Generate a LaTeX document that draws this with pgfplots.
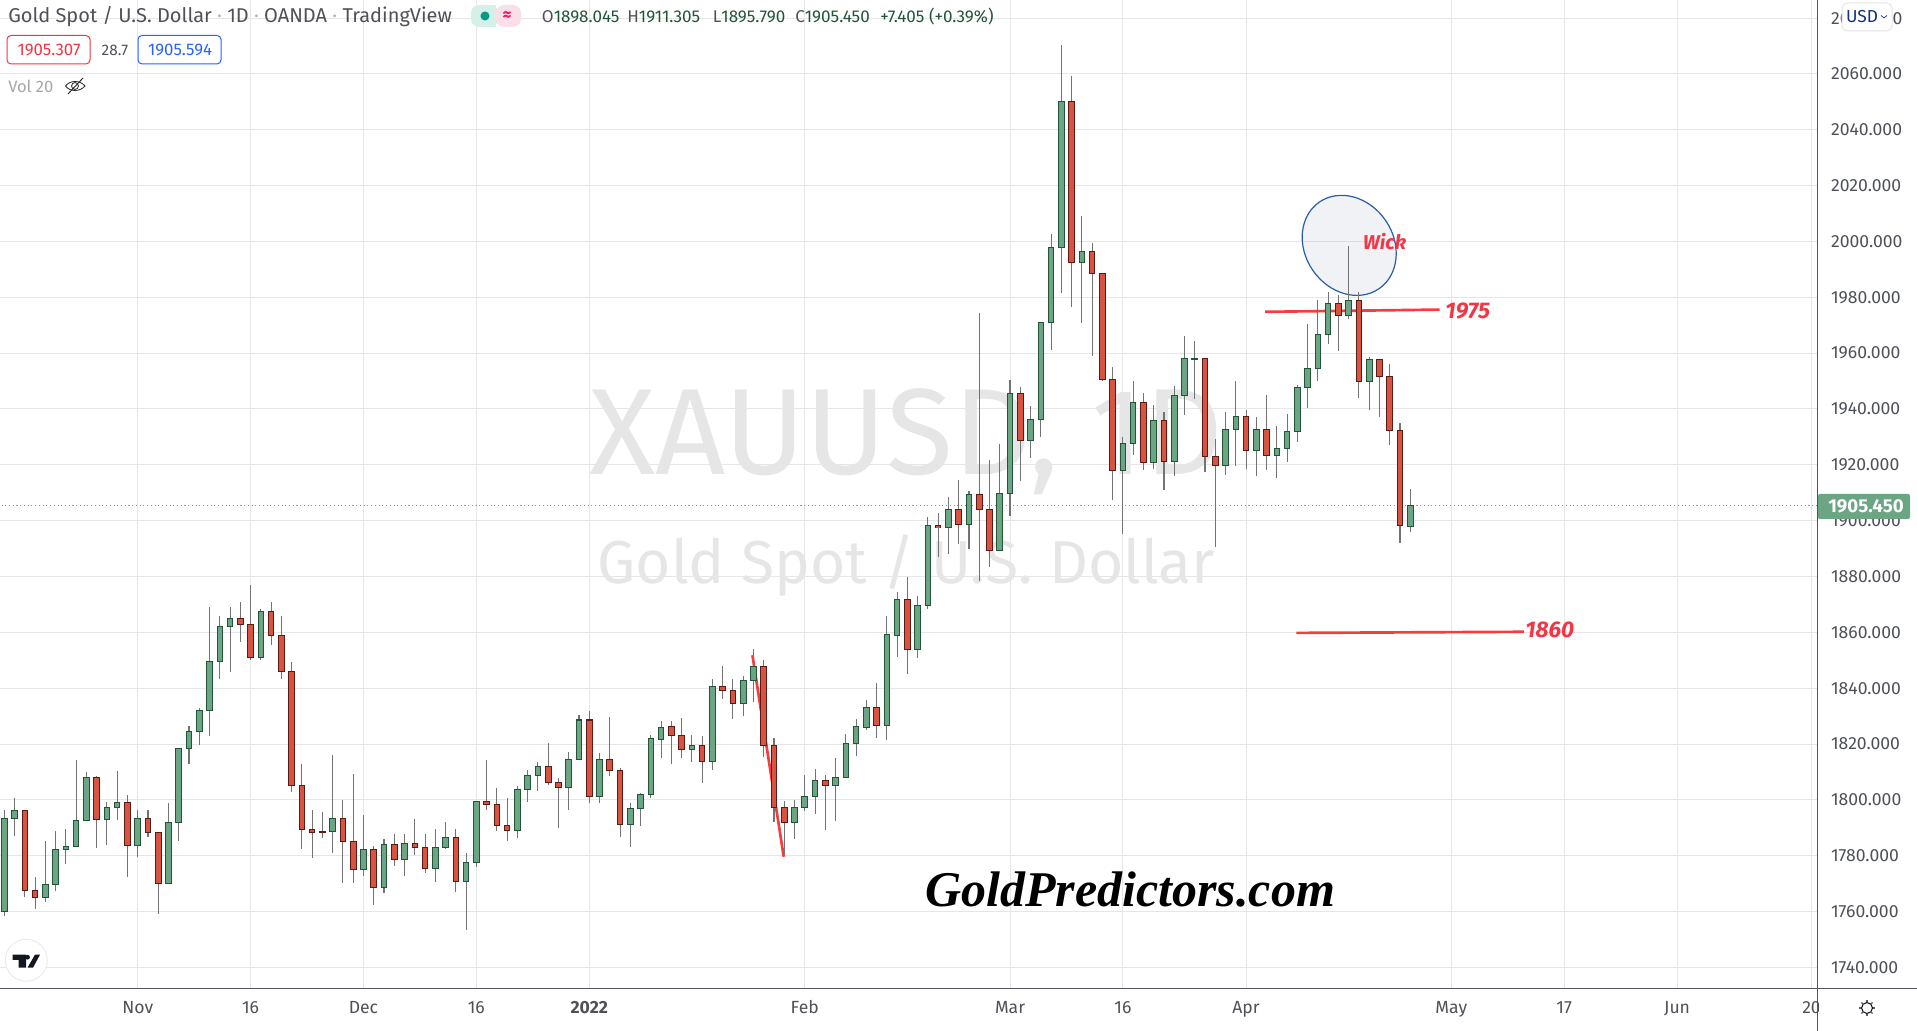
\documentclass[border=0pt]{standalone}
\usepackage{fontspec}
\usepackage{pgfplots}
\usepackage{pgfplotstable}
\pgfplotsset{compat=1.18}
\setmainfont{Fira Sans}
\newfontfamily\serifb{Liberation Serif}

\definecolor{upfill}{HTML}{6BA583}
\definecolor{upline}{HTML}{225437}
\definecolor{dnfill}{HTML}{D75442}
\definecolor{dnline}{HTML}{5B1A13}
\definecolor{wick}{HTML}{737375}
\definecolor{gridc}{HTML}{E6E6E6}
\definecolor{txt}{HTML}{4F5159}
\definecolor{axisc}{HTML}{50535E}
\definecolor{redt}{HTML}{F23645}
\definecolor{bluet}{HTML}{2962FF}
\definecolor{wmark}{HTML}{E6E6E6}
\definecolor{pillg}{HTML}{D5EFE9}
\definecolor{pillr}{HTML}{FADFE8}
\definecolor{dotg}{HTML}{089981}
\definecolor{pinkt}{HTML}{E91E63}
\definecolor{ink}{HTML}{131722}
\definecolor{ringline}{HTML}{2A5CAD}
\definecolor{ringfill}{HTML}{B8BCD0}

% index open high low close, rising days
\pgfplotstableread{
i o h l c
0 1760.1 1796.5 1758.3 1793.2
1 1793.2 1800.8 1787.0 1796.1
4 1764.9 1785.4 1763.3 1769.6
5 1769.6 1788.7 1767.3 1782.1
6 1782.1 1789.7 1777.0 1783.2
7 1783.2 1814.1 1783.2 1792.5
8 1792.5 1810.1 1792.5 1807.9
10 1792.8 1799.3 1783.8 1797.1
11 1797.1 1810.5 1792.7 1798.9
13 1783.5 1796.2 1779.5 1793.2
16 1769.9 1799.0 1769.9 1791.8
17 1791.8 1818.3 1785.2 1818.3
18 1818.3 1826.6 1812.8 1824.4
19 1824.4 1833.0 1819.6 1831.9
20 1831.9 1868.9 1822.8 1849.4
21 1849.4 1866.0 1843.2 1862.0
22 1862.0 1868.9 1845.7 1864.8
25 1850.9 1868.2 1850.0 1867.4
32 1788.5 1815.9 1780.9 1793.2
35 1774.9 1794.7 1772.7 1782.1
37 1768.5 1786.0 1766.6 1783.9
39 1778.5 1787.9 1772.7 1784.2
42 1775.3 1789.7 1770.5 1782.8
43 1782.8 1791.9 1782.3 1786.7
45 1770.6 1781.0 1753.3 1777.4
46 1777.4 1799.6 1776.0 1799.3
50 1788.9 1805.1 1786.3 1803.6
51 1803.6 1810.8 1799.2 1808.6
52 1808.6 1813.6 1803.3 1812.1
55 1804.3 1817.3 1796.5 1814.6
56 1814.6 1830.5 1814.6 1828.6
58 1801.1 1816.8 1798.8 1814.6
61 1791.1 1799.0 1783.1 1796.8
62 1796.8 1802.6 1790.6 1801.8
63 1801.8 1823.2 1800.5 1821.8
64 1821.8 1828.2 1814.9 1826.1
67 1817.9 1823.2 1813.4 1819.3
69 1813.9 1843.2 1810.6 1840.7
72 1834.6 1844.4 1829.9 1842.9
73 1842.9 1853.9 1835.2 1847.8
77 1791.8 1800.0 1786.0 1797.1
78 1797.1 1809.0 1796.0 1801.1
79 1801.1 1811.1 1794.9 1806.8
81 1805.0 1815.0 1792.4 1807.9
82 1807.9 1823.6 1807.9 1820.3
83 1820.3 1828.9 1815.6 1826.1
84 1826.1 1835.7 1824.9 1833.2
86 1826.8 1865.7 1821.3 1859.3
87 1859.0 1874.3 1851.2 1871.7
89 1853.7 1872.9 1850.8 1869.6
90 1869.6 1901.2 1868.2 1898.2
92 1897.5 1908.3 1888.0 1903.9
94 1898.5 1910.8 1889.9 1909.3
97 1889.3 1927.6 1889.3 1909.6
98 1909.6 1950.5 1901.7 1945.7
100 1928.6 1941.2 1922.4 1936.4
101 1936.4 1970.9 1929.9 1970.9
102 1970.9 2002.8 1961.3 1997.7
103 1997.7 2070.5 1981.5 2050.0
105 1992.3 2009.3 1970.7 1996.3
109 1917.9 1929.8 1895.1 1927.6
110 1927.6 1949.9 1923.5 1942.2
112 1920.8 1941.6 1918.5 1935.8
114 1921.1 1948.4 1916.0 1944.7
115 1944.7 1966.3 1937.8 1958.0
116 1957.9 1964.5 1943.5 1958.0
119 1919.7 1938.8 1916.3 1932.6
120 1932.6 1949.9 1919.6 1937.2
122 1925.0 1937.0 1916.0 1932.7
124 1923.3 1933.8 1915.3 1925.8
125 1925.8 1938.2 1921.0 1931.9
126 1931.9 1948.6 1928.2 1947.7
127 1947.7 1970.4 1940.4 1954.5
128 1954.5 1979.1 1950.1 1966.7
129 1966.7 1981.8 1963.4 1977.9
131 1973.6 1998.4 1972.4 1978.9
133 1949.9 1958.5 1939.7 1957.8
137 1898.045 1911.305 1895.79 1905.45
}\upbars

% falling days
\pgfplotstableread{
i o h l c
2 1796.1 1796.5 1765.1 1767.4
3 1767.4 1772.2 1760.8 1764.9
9 1807.9 1808.7 1782.7 1792.8
12 1798.9 1801.6 1772.3 1783.5
14 1793.2 1796.5 1786.6 1788.2
15 1788.2 1788.2 1759.0 1769.9
23 1864.8 1870.7 1856.5 1862.7
24 1862.7 1877.1 1850.0 1850.9
26 1867.4 1871.0 1855.4 1858.7
27 1858.7 1866.0 1843.2 1845.9
28 1845.9 1849.2 1802.7 1805.0
29 1805.0 1812.7 1782.3 1789.3
30 1789.3 1796.5 1779.1 1788.4
31 1788.5 1795.5 1786.3 1788.4
33 1793.2 1799.8 1770.1 1785.0
34 1785.0 1809.1 1770.1 1774.9
36 1782.1 1783.6 1762.3 1768.5
38 1783.9 1787.9 1776.2 1778.5
40 1784.2 1793.3 1780.2 1782.8
41 1782.8 1787.9 1773.7 1775.3
44 1786.7 1789.7 1766.9 1770.6
47 1799.3 1814.4 1796.3 1798.2
48 1798.2 1804.4 1788.8 1790.7
49 1790.7 1800.8 1785.2 1788.9
53 1812.1 1820.5 1805.2 1806.1
54 1806.1 1808.0 1789.9 1804.3
57 1828.6 1831.9 1798.8 1801.1
59 1814.6 1829.8 1808.4 1810.4
60 1810.4 1811.4 1786.7 1791.1
65 1826.1 1828.2 1812.7 1822.9
66 1822.9 1829.3 1814.9 1817.9
68 1819.3 1822.9 1805.9 1813.9
70 1840.7 1848.0 1836.3 1839.3
71 1839.3 1843.2 1828.8 1834.6
74 1847.8 1850.0 1815.2 1819.3
75 1819.3 1822.3 1792.0 1797.1
76 1797.1 1799.6 1780.5 1791.8
80 1806.8 1809.0 1789.2 1805.0
85 1833.2 1841.8 1822.0 1826.8
88 1871.7 1879.7 1845.1 1853.7
91 1898.2 1902.6 1887.0 1897.4
93 1903.9 1914.4 1891.7 1898.5
95 1909.3 1974.3 1878.5 1903.9
96 1903.9 1921.9 1883.5 1889.3
99 1945.7 1947.9 1914.2 1928.6
104 2050.0 2059.4 1976.5 1992.3
106 1996.3 1999.3 1958.9 1988.4
107 1988.4 1988.4 1949.9 1950.5
108 1950.5 1954.9 1907.4 1917.9
111 1942.2 1945.6 1918.1 1920.8
113 1935.8 1938.8 1911.0 1921.1
117 1958.0 1958.3 1917.4 1922.9
118 1922.9 1929.3 1890.6 1919.7
121 1937.2 1939.8 1918.5 1925.0
123 1932.7 1945.0 1918.2 1923.3
130 1977.9 1980.9 1960.9 1973.6
132 1978.9 1982.0 1944.0 1949.9
134 1957.8 1957.8 1937.2 1951.7
135 1951.7 1956.1 1927.1 1932.3
136 1932.3 1934.9 1892.0 1898.2
}\dnbars

\pgfplotsset{
  wicks/.style={draw=none, no markers,
    error bars/.cd, y dir=both, y explicit, error mark=none,
    error bar style={line width=.8pt, draw=wick}},
  bodyline/.style={draw=none, no markers,
    error bars/.cd, y dir=both, y explicit, error mark=none,
    error bar style={line width=4.95pt, draw=#1}},
  bodyfill/.style={draw=none, no markers,
    error bars/.cd, y dir=both, y explicit, error mark=none,
    error bar style={line width=3.45pt, draw=#1}},
}

\begin{document}
\begin{tikzpicture}
\path[use as bounding box] (0,0) rectangle (1437.75pt,773.25pt);
\begin{axis}[
  at={(0pt,32.025pt)}, anchor=south west,
  scale only axis, width=1363.125pt, height=741.225pt,
  xmin=-0.419, xmax=176.68, ymin=1732.5, ymax=2086.5,
  axis line style={draw=none},
  axis x line*=bottom, axis y line*=right,
  xtick={13,24,35,46,57,78,98,109,121,141,152,163,176.1},
  xticklabels={Nov,16,Dec,16,\textbf{2022},Feb,Mar,16,Apr,May,17,Jun,20},
  ytick={1740,1760,...,2080},
  major tick length=0pt,
  grid=major, major grid style={color=gridc, line width=.75pt},
  ticklabel style={font=\fontsize{13.2pt}{14pt}\selectfont, text=txt},
  yticklabel style={/pgf/number format/assume math mode=true,
    /pgf/number format/fixed, /pgf/number format/fixed zerofill,
    /pgf/number format/precision=3, /pgf/number format/1000 sep={},
    anchor=west, inner sep=0pt, xshift=10pt},
  xticklabel style={anchor=base, yshift=-18.75pt},
]
% watermark and ellipse stay under the candles
\node[text=wmark, font=\fontsize{92pt}{92pt}\selectfont, inner sep=0pt] at (axis cs:87.9,1928.4) {XAUUSD, 1D};
\node[text=wmark, font=\fontsize{45.5pt}{47pt}\selectfont, inner sep=0pt] at (axis cs:87.9,1884) {Gold Spot / U.S. Dollar};
\draw[draw=ringline, line width=.9pt, fill=ringfill, fill opacity=.2]
  (axis cs:131.05,1998.6) ellipse [x radius=39.45pt, y radius=33.1pt, rotate=-55.4];

% hand drawn lines
\addplot[redt!90!orange, line width=2pt] coordinates {(122.85,1974.8) (139.86,1975.6)};
\addplot[redt!90!orange, line width=2pt] coordinates {(125.9,1859.8) (148.1,1860.2)};
\addplot[redt!90!orange, line width=2pt] coordinates {(72.9,1851.8) (75.95,1779.6)};
% last price line
\addplot[dotted, upfill, line width=.8pt] coordinates {(-1,1905.45) (177,1905.45)};

% wicks
\addplot[wicks] table[x=i, y=o, y error plus expr=\thisrow{h}-\thisrow{o}, y error minus expr=\thisrow{o}-\thisrow{l}] {\upbars};
\addplot[wicks] table[x=i, y=o, y error plus expr=\thisrow{h}-\thisrow{o}, y error minus expr=\thisrow{o}-\thisrow{l}] {\dnbars};
% bodies: dark bar, then a narrower bar in the fill colour
\addplot[bodyline=upline] table[x=i, y expr=(\thisrow{o}+\thisrow{c})/2, y error expr={abs(\thisrow{c}-\thisrow{o})/2+0.18}] {\upbars};
\addplot[bodyfill=upfill] table[x=i, y expr=(\thisrow{o}+\thisrow{c})/2, y error expr={max(abs(\thisrow{c}-\thisrow{o})/2-0.18,0)}] {\upbars};
\addplot[bodyline=dnline] table[x=i, y expr=(\thisrow{o}+\thisrow{c})/2, y error expr={abs(\thisrow{c}-\thisrow{o})/2+0.18}] {\dnbars};
\addplot[bodyfill=dnfill] table[x=i, y expr=(\thisrow{o}+\thisrow{c})/2, y error expr={max(abs(\thisrow{c}-\thisrow{o})/2-0.18,0)}] {\dnbars};

\node[text=redt, font=\fontsize{15pt}{15pt}\selectfont\itshape\bfseries] at (axis cs:134.5,1999.8) {Wick};
\node[text=redt, font=\fontsize{17pt}{17pt}\selectfont\itshape\bfseries] at (axis cs:142.6,1975.0) {1975};
\node[text=redt, font=\fontsize{17pt}{17pt}\selectfont\itshape\bfseries] at (axis cs:150.6,1860.9) {1860};
\node[text=black, font=\fontsize{37.5pt}{38pt}\serifb\selectfont\itshape\bfseries] at (axis cs:109.7,1767.8) {GoldPredictors.com};
\end{axis}

% chrome, in image pixels from the top left corner
\begin{scope}[yshift=773.25pt, x=.75pt, y=-.75pt]
\fill[white] (1818.5,990) rectangle (1917,1031);
\draw[axisc, line width=1.1pt] (0,988.3) -- (1917,988.3);
\draw[axisc, line width=1.1pt] (1817.5,0) -- (1817.5,1031);
% last price tag
\fill[upfill, rounded corners=1.5pt] (1818,494) rectangle (1910,519);
\node[text=white, font=\fontsize{14pt}{14pt}\selectfont\bfseries, inner sep=0pt] at (1866,506.5) {1905.450};
% currency button
\draw[draw=gridc, fill=white, rounded corners=4pt, line width=.75pt] (1842,3) rectangle (1892,31);
\node[text=bluet!50!black, font=\fontsize{13pt}{14pt}\selectfont, inner sep=0pt] at (1862,16.5) {USD};
\draw[bluet!50!black, line width=.5pt] (1881,15.5) -- (1884,18) -- (1887,15.5);
% header
\node[anchor=west, text=txt, font=\fontsize{15pt}{16pt}\selectfont, inner sep=0pt] at (8,17) {Gold Spot / U.S. Dollar {\color{gray!60}·} 1D {\color{gray!60}·} OANDA {\color{gray!60}·} TradingView};
\fill[pillg, rounded corners=6pt] (471,5) rectangle (498,27);
\fill[pillr, rounded corners=6pt] (496,5) rectangle (521,27);
\fill[pillg] (490,5) rectangle (496,27);
\fill[dotg] (485,16) circle [radius=3.4pt];
\node[text=pinkt, font=\fontsize{13pt}{14pt}\selectfont\bfseries, inner sep=0pt] at (507,16) {≈};
\foreach \xa/\la/\va in {541.7/O/1898.045, 627/H/1911.305, 712.7/L/1895.790, 795/C/1905.450}
  \node[anchor=west, inner sep=0pt, font=\fontsize{12.8pt}{14pt}\selectfont] at (\xa,17) {\textcolor{txt}{\la}\textcolor{upline}{\va}};
\node[anchor=west, inner sep=0pt, text=upline, font=\fontsize{12.8pt}{14pt}\selectfont] at (880,17) {+7.405 (+0.39\%)};
% moving average values
\draw[redt, fill=white, rounded corners=3pt, line width=.75pt] (7,35.5) rectangle (90,64);
\node[text=redt, font=\fontsize{12.6pt}{14pt}\selectfont, inner sep=0pt] at (49,50) {1905.307};
\node[text=txt, font=\fontsize{11.5pt}{14pt}\selectfont, inner sep=0pt] at (115,50) {28.7};
\draw[bluet, fill=white, rounded corners=3pt, line width=.75pt] (138,35.5) rectangle (221,64);
\node[text=bluet, font=\fontsize{12.6pt}{14pt}\selectfont, inner sep=0pt] at (180,50) {1905.594};
\node[anchor=west, text=gray!70, font=\fontsize{12.4pt}{14pt}\selectfont, inner sep=0pt] at (8,86) {Vol 20};
% hidden eye
\draw[black!85, line width=.6pt] (65.5,86) .. controls (70,80) and (80,80) .. (85,86) .. controls (80,92) and (70,92) .. (65.5,86);
\draw[black!85, line width=.6pt] (75,86) circle [radius=2.6pt];
\draw[black!85, line width=.7pt] (68,94) -- (83,78);
% logo
\draw[draw=gridc!80!white, fill=white, line width=.75pt] (26.3,960.3) circle [radius=15.75pt];
\fill[ink] (12.7,954.7) -- (26,954.7) -- (26,967.7) -- (18.7,967.7) -- (18.7,960) -- (12.7,960) -- cycle;
\fill[ink] (27.5,957.2) circle [radius=1.8pt];
\fill[ink] (35,954.7) -- (40,954.7) -- (33,967.7) -- (27.5,967.7) -- cycle;
% settings
\draw[ink, line width=.8pt] (1867,1008) circle [radius=4.1pt];
\foreach \a in {0,45,...,315}
  \draw[ink!70, line width=1pt] (1867,1008) ++(\a:6) -- ++(\a:1.8);
\end{scope}
\end{tikzpicture}
\end{document}
